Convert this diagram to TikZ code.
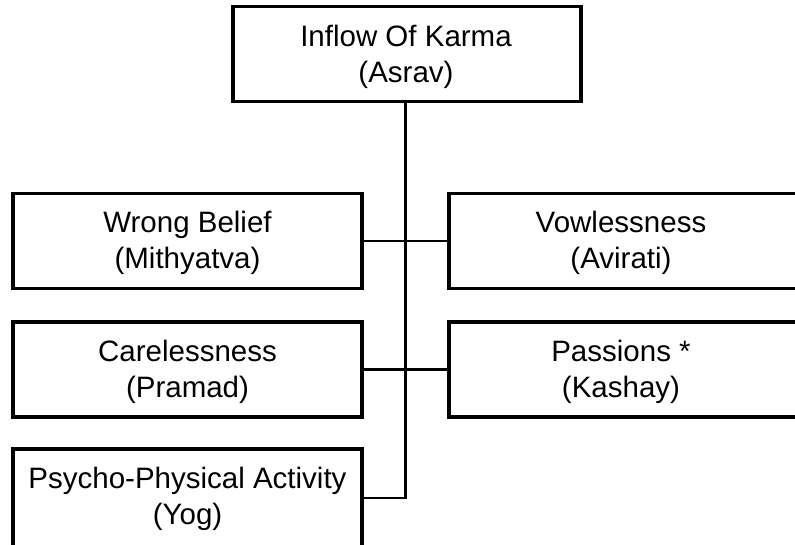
\documentclass[tikz,border=0pt]{standalone}
\usepackage{fontspec}
\setmainfont{Liberation Sans}
\begin{document}
\begin{tikzpicture}[x=1pt,y=-1pt,
  box/.style={draw, line width=3.2pt, inner sep=0pt, minimum height=95pt},
  lbl/.style={anchor=base, font=\fontsize{29.5}{36}\selectfont, inner sep=0pt},
  trunk/.style={line width=3.8pt},
  branch/.style={line width=2.6pt}]
\useasboundingbox (0,0) rectangle (795,544);
\clip (0,0) rectangle (795,544);
% boxes
\node[box, minimum width=348pt] (top) at (407,54) {};
\node[box, minimum width=349pt] (wb) at (187.5,241) {};
\node[box, minimum width=361pt] (vow) at (629.5,241) {};
\node[box, minimum width=349pt] (care) at (187.5,369.5) {};
\node[box, minimum width=361pt] (pass) at (629.5,369.5) {};
\node[box, minimum width=349pt, minimum height=120pt] (psy) at (187.5,509) {};
% labels
\node[lbl] (t1) at (406,46) {Inflow Of Karma};
\node[lbl] (t2) at (406,82.5) {(Asrav)};
\node[lbl] (w1) at (187.5,232.5) {Wrong Belief};
\node[lbl] (w2) at (187.5,268.5) {(Mithyatva)};
\node[lbl] (v1) at (621,232.5) {Vowlessness};
\node[lbl] (v2) at (621,268.5) {(Avirati)};
\node[lbl] (c1) at (187.5,361) {Carelessness};
\node[lbl] (c2) at (187.5,397) {(Pramad)};
\node[lbl] (p1) at (621,361) {Passions *};
\node[lbl] (p2) at (621,397) {(Kashay)};
\node[lbl] (y1) at (187.5,488.5) {Psycho-Physical Activity};
\node[lbl] (y2) at (187.5,524.5) {(Yog)};
% connectors
\coordinate (j) at (405.5,498);
\draw[trunk] (top.south -| j) -- (j);
\draw[branch] (wb.east) -- (vow.west);
\draw[branch] (care.east) -- (pass.west);
\draw[branch] (j -| psy.east) -- ([xshift=1.9pt]j);
\end{tikzpicture}
\end{document}
